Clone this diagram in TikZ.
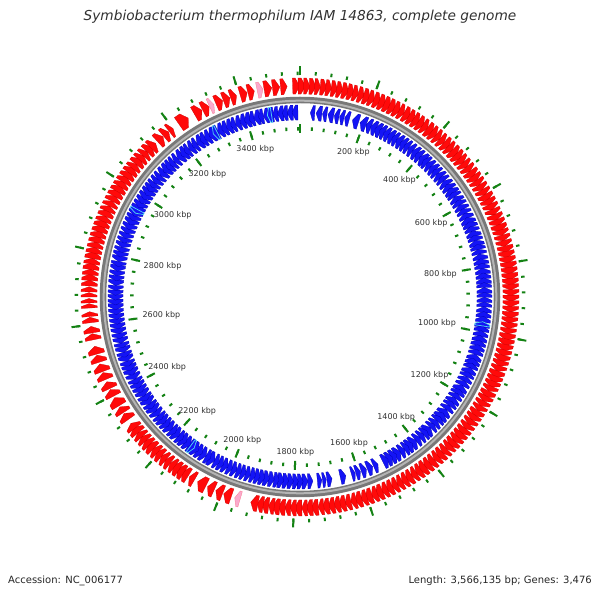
\documentclass[tikz,border=0pt]{standalone}
\usepackage{fontspec}
\setmainfont{DejaVu Sans}[ItalicFont={DejaVu Sans Oblique}]

\definecolor{cdsred}{RGB}{255,10,10}
\definecolor{cdsredline}{RGB}{205,0,0}
\definecolor{cdsblue}{RGB}{20,20,245}
\definecolor{cdsblueline}{RGB}{0,0,175}
\definecolor{rnapink}{RGB}{250,170,205}
\definecolor{trnacyan}{RGB}{80,220,240}
\definecolor{tickgreen}{RGB}{20,130,20}
\definecolor{labelgray}{RGB}{50,50,50}
\definecolor{ringgray}{RGB}{120,120,120}
\definecolor{ringlight}{RGB}{180,180,180}

% gene on the forward strand, clockwise, tip at #3
\newcommand{\fwdgene}[3][cdsf]{%
  \pgfmathsetmacro{\gs}{90-(#2)}%
  \pgfmathsetmacro{\ge}{90-(#3)}%
  \pgfmathsetmacro{\gh}{\ge+min(1.3,0.6*((#3)-(#2)))}%
  \filldraw[#1] (\gs:219) arc[start angle=\gs, end angle=\gh, radius=219]
    -- (\ge:211) -- (\gh:203) arc[start angle=\gh, end angle=\gs, radius=203] -- cycle;
}
% gene on the reverse strand, counterclockwise, tip at #2
\newcommand{\revgene}[3][cdsr]{%
  \pgfmathsetmacro{\gs}{90-(#2)}%
  \pgfmathsetmacro{\ge}{90-(#3)}%
  \pgfmathsetmacro{\gh}{\gs-min(1.5,0.6*((#3)-(#2)))}%
  \filldraw[#1] (\ge:192) arc[start angle=\ge, end angle=\gh, radius=192]
    -- (\gs:184.5) -- (\gh:177) arc[start angle=\gh, end angle=\ge, radius=177] -- cycle;
}

\begin{document}
\begin{tikzpicture}[x=1pt, y=1pt]
  \tikzset{cdsf/.style={fill=cdsred, draw=cdsredline, line width=0.25pt},
    cdsr/.style={fill=cdsblue, draw=cdsblueline, line width=0.25pt},
    rna/.style={fill=rnapink, draw=rnapink!70!red, line width=0.3pt},
    trna/.style={fill=cdsblue, draw=trnacyan, line width=0.7pt},
    tickmin/.style={draw=tickgreen, line width=2pt},
    tickmaj/.style={draw=tickgreen, line width=2pt},
    kbp/.style={font=\fontsize{8}{9}\selectfont, text=labelgray, inner sep=0pt},
    foot/.style={font=\fontsize{10}{12}\selectfont, text=black!85, inner sep=0pt},
    titre/.style={font=\fontsize{13.7}{16}\selectfont\itshape, text=labelgray, inner sep=0pt}}

  \fill[white] (0,0) rectangle (600,600);
  \useasboundingbox (0,0) rectangle (600,600);
  \pgfmathsetseed{11}

  \node[titre] (title) at (300,583) {Symbiobacterium thermophilum IAM 14863, complete genome};
  \node[foot, anchor=west] (accession) at (8,19) {Accession: NC\_006177};
  \node[foot, anchor=east] (length) at (592,19) {Length: 3,566,135 bp; Genes: 3,476};

  \begin{scope}[shift={(300,303)}]
    \draw[ringgray, line width=6.5pt] (0,0) circle[radius=197];
    \draw[ringlight, line width=2pt] (0,0) circle[radius=196.3];

    % forward strand
    \foreach \p in {-2,-0.5,...,192.5}{
      \pgfmathsetmacro{\q}{\p+1.55+0.45*rnd}
      \fwdgene{\p}{\q}
    }
    \foreach \p in {212,213.5,...,232}{
      \pgfmathsetmacro{\q}{\p+1.55+0.45*rnd}
      \fwdgene{\p}{\q}
    }
    \foreach \p in {273,274.5,...,315.5}{
      \pgfmathsetmacro{\q}{\p+1.55+0.45*rnd}
      \fwdgene{\p}{\q}
    }
    \foreach \p/\q in {199/201.2, 201.5/203.5, 204/206, 206.5/209, 210/211.6,
        234.5/236.5, 236.8/238.6, 239/241.5, 242/244, 244.3/246.3, 247/249, 249.3/251.5,
        252/254, 254.3/256.5, 258.3/260, 260.2/262, 263/264.5, 264.7/266, 267/268.2,
        268.4/269.6, 270/271.2, 271.4/272.8,
        317.5/319.5, 319.7/321.5, 321.7/323, 325/328, 330/332.3, 332.5/334.5,
        336.5/338.5, 338.7/340.6, 340.8/342.5, 343.5/345.5, 345.7/347.5,
        350.2/352.3, 352.5/354.5, 354.7/356.5}{
      \fwdgene{\p}{\q}
    }
    \foreach \p/\q in {196.5/198, 334.6/335.9, 348.3/349.9}{
      \fwdgene[rna]{\p}{\q}
    }

    % reverse strand
    \foreach \p in {176,177.5,...,358.5}{
      \pgfmathsetmacro{\q}{\p+1.55+0.45*rnd}
      \revgene{\p}{\q}
    }
    \foreach \p in {21,22.5,...,151.5}{
      \pgfmathsetmacro{\q}{\p+1.55+0.45*rnd}
      \revgene{\p}{\q}
    }
    \foreach \p/\q in {3.2/4.6, 5/6.8, 7/8.4, 8.7/10.5, 10.7/12.2, 12.4/13.8, 14/15.5,
        16.5/18.5, 19/21, 155/156.5, 156.8/158.6, 158.9/160.6, 160.9/162.4, 162.6/163.8,
        165.6/167.4, 170/171.6, 171.8/173, 173.2/174.6}{
      \revgene{\p}{\q}
    }
    \foreach \p in {97.7, 215, 297, 332, 349.8}{
      \revgene[trna]{\p}{\p+1.3}
    }

    % ticks every 40 kbp, longer every 200 kbp
    \foreach \i in {0,...,89}{
      \pgfmathsetmacro{\a}{mod(450-\i*40/3566.135*360,360)}
      \draw[tickmin] (\a:222) -- (\a:225.5);
      \draw[tickmin] (\a:166.5) -- (\a:170);
    }
    \foreach \k in {0,...,17}{
      \pgfmathsetmacro{\a}{mod(450-\k*200/3566.135*360,360)}
      \draw[tickmaj] (\a:221.5) -- (\a:230.5);
      \draw[tickmaj] (\a:164) -- (\a:173);
    }
    \foreach \k in {1,...,17}{
      \pgfmathsetmacro{\a}{mod(450-\k*200/3566.135*360,360)}
      \pgfmathtruncatemacro{\v}{\k*200}
      \node[kbp, anchor=\a] (k\k) at (\a:159) {\v\ kbp};
    }
  \end{scope}
\end{tikzpicture}
\end{document}
